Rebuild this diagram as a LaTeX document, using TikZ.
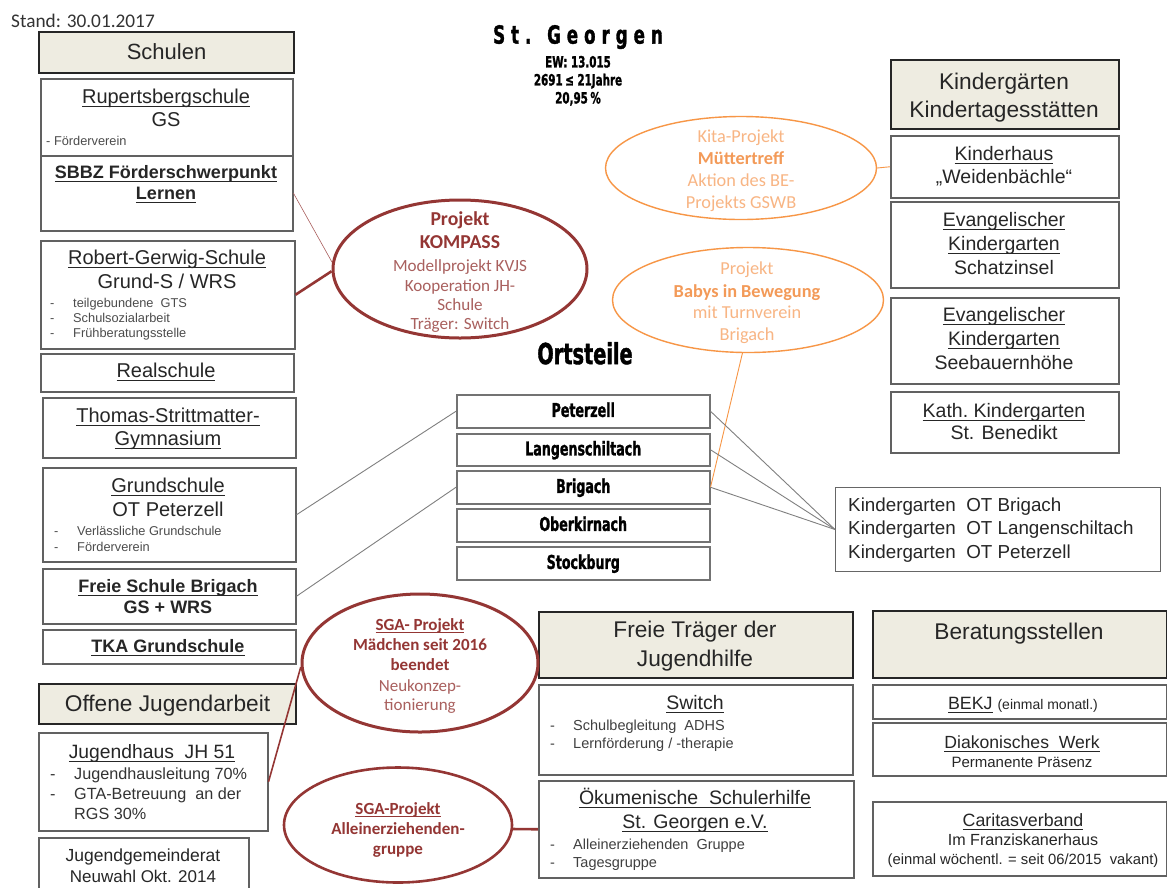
\documentclass[tikz,border=0pt]{standalone}
\usepackage{fontspec}
\setmainfont{Liberation Sans}
\newfontfamily\calfont{Carlito}
\IfFontExistsTF{DejaVu Sans Condensed}
  {\newfontfamily\impfont{DejaVu Sans Condensed}[FakeStretch=0.74, BoldFeatures={FakeBold=1.3}]}
  {\newfontfamily\impfont{DejaVu Sans}[FakeStretch=0.66, BoldFeatures={FakeBold=1.3}]}
\usetikzlibrary{shapes.geometric}
\definecolor{beige}{HTML}{EEECE1}
\definecolor{kred}{HTML}{943634}
\definecolor{kredL}{HTML}{A9605E}
\definecolor{kor}{HTML}{F79646}
\definecolor{korL}{HTML}{F8B584}
\definecolor{korB}{HTML}{F39A58}
\definecolor{txt}{HTML}{262626}
\newcommand\fz[2]{\fontsize{#1}{#2}\selectfont}
\newsavebox\ulbox
\newcommand\uln[1]{\sbox\ulbox{#1}\rlap{\usebox\ulbox}\rule[-0.17em]{\wd\ulbox}{0.9pt}}
\tikzset{
  box/.style={draw=black!62, line width=1.5pt, fill=white, inner sep=0, anchor=north west},
  hdr/.style={draw=black!85, line width=2pt, fill=beige, inner sep=0, anchor=north west},
  obox/.style={draw=black!55, line width=1.5pt, fill=white, inner sep=0, anchor=north west},
  tx/.style={inner sep=0, anchor=mid, text=txt},
  lw/.style={tx, anchor=mid west},
  hT/.style={tx, font=\fz{22.7}{27}, yshift=-4.8pt},
  bT/.style={tx, font=\fz{19.5}{23}, yshift=-4.2pt},
  bTL/.style={tx, font=\fz{20}{24}, yshift=-4.2pt},
  bB/.style={tx, font=\fz{18}{22}\bfseries, yshift=-4pt},
  sm/.style={lw, font=\fz{12.8}{15}, text=black!70, yshift=-2.5pt},
  md/.style={lw, font=\fz{16.2}{19}, text=black!80, yshift=-3.5pt},
  sw/.style={lw, font=\fz{14.5}{17}, text=black!75, yshift=-3pt},
  ort/.style={tx, font=\impfont\bfseries\fz{19}{22}, text=black, yshift=-3pt},
  kell/.style={ellipse, draw=kred, line width=3pt, inner sep=0},
  oell/.style={ellipse, draw=kor, line width=1.4pt, inner sep=0},
  kB/.style={tx, font=\calfont\bfseries\fz{19.7}{23}, text=kred, yshift=-3.5pt},
  kN/.style={tx, font=\calfont\fz{17.1}{20}, text=kredL, yshift=-3.5pt},
  kS/.style={tx, font=\calfont\bfseries\fz{17}{20}, text=kred, yshift=-3.5pt},
  kSN/.style={tx, font=\calfont\fz{17}{20}, text=kredL, yshift=-3.5pt},
  oN/.style={tx, font=\calfont\fz{18.3}{22}, text=korL, yshift=-4pt},
  oB/.style={tx, font=\calfont\bfseries\fz{18.3}{22}, text=korB, yshift=-4pt},
  gline/.style={draw=black!50, line width=0.9pt},
  rthin/.style={draw=kred!80, line width=0.6pt},
  rthick/.style={draw=kred, line width=2.6pt},
  rmed/.style={draw=kred, line width=1.6pt},
  oline/.style={draw=kor, line width=0.9pt}
}
\begin{document}
\begin{tikzpicture}[x=1pt,y=-1pt]
\useasboundingbox (0,0) rectangle (1167,887);
\fill[white] (0,0) rectangle (1167,887);

\node[box, minimum width=252, minimum height=77] (rup) at (40,78) {};
\node[box, minimum width=252, minimum height=75] (sbbz) at (40,155) {};
\node[box, minimum width=254, minimum height=108] (rgs) at (40,240) {};
\node[box, minimum width=253, minimum height=38] (real) at (40,353) {};
\node[box, minimum width=253, minimum height=60] (tsg) at (42,397) {};
\node[box, minimum width=253, minimum height=94] (gsp) at (42,467) {};
\node[box, minimum width=253, minimum height=55] (fsb) at (42,568) {};
\node[box, minimum width=253, minimum height=34] (tka) at (42,629) {};
\node[hdr, minimum width=255, minimum height=41] (schulen) at (38,31) {};
\node[hdr, minimum width=257, minimum height=40] (ojhdr) at (38,683) {};
\node[box, minimum width=229, minimum height=98] (jh) at (38,732) {};
\node[box, minimum width=210, minimum height=75] (jgr) at (38,837) {};

\node[hdr, minimum width=228, minimum height=69] (kghdr) at (890,59) {};
\node[box, minimum width=228, minimum height=62] (kh) at (890,135) {};
\node[box, minimum width=228, minimum height=86] (schatz) at (890,201) {};
\node[box, minimum width=228, minimum height=86] (see) at (890,297) {};
\node[box, minimum width=228, minimum height=61] (kath) at (890,391) {};

\node[obox, minimum width=253, minimum height=33] (pz) at (456,394) {};
\node[obox, minimum width=253, minimum height=32] (lg) at (456,433) {};
\node[obox, minimum width=253, minimum height=33] (br) at (456,470) {};
\node[obox, minimum width=253, minimum height=33] (ok) at (456,508) {};
\node[obox, minimum width=253, minimum height=33] (sb) at (456,546) {};
\node[box, draw=black!60, line width=1pt, minimum width=325, minimum height=84] (kgot) at (835,487) {};

\node[hdr, minimum width=314, minimum height=66] (fthdr) at (538,611) {};
\node[box, minimum width=314, minimum height=90] (switch) at (538,684) {};
\node[box, minimum width=315, minimum height=97] (oek) at (538,780) {};
\node[hdr, minimum width=294, minimum height=67] (bshdr) at (872,610) {};
\node[box, minimum width=294, minimum height=34] (bekj) at (872,684) {};
\node[box, minimum width=294, minimum height=53] (diak) at (872,722) {};
\node[box, minimum width=294, minimum height=74] (carit) at (872,801) {};

% ellipses
\node[kell, minimum width=254, minimum height=138] (kompass) at (460,269) {};
\node[kell, minimum width=236, minimum height=138] (maed) at (420,663) {};
\node[kell, line width=2.6pt, minimum width=228, minimum height=115] (allein) at (398,825) {};
\node[oell, minimum width=271, minimum height=103] (kita) at (741,168) {};
\node[oell, minimum width=271, minimum height=105] (babys) at (748,300) {};

% connectors
\draw[rthin] (sbbz.east) -- (kompass.177.5);
\draw[rthick] (rgs.east) -- (kompass.181.5);
\draw[rmed] (jh.east) -- (maed.182.5);
\draw[rthick] (allein.-2) -- (oek.west);
\draw[oline] (kita.east) -- (kh.west);
\draw[oline] (babys.264) -- (br.east);
\draw[gline] (gsp.east) -- (pz.west);
\draw[gline] (fsb.east) -- (br.west);
\draw[gline] (pz.east) -- (kgot.west);
\draw[gline] (lg.east) -- (kgot.west);
\draw[gline] (br.east) -- (kgot.west);

% --- titles
\node[lw, font=\calfont\fz{19.3}{23}, text=black!80, yshift=-3.5pt] (stand) at (11,21) {Stand: 30.01.2017};
\node[tx, font=\impfont\bfseries\fz{25}{30}\addfontfeatures{LetterSpace=24}, text=black, yshift=-5pt] (title) at (578,36) {St. Georgen};
\node[tx, font=\impfont\bfseries\fz{15.5}{18}, text=black, yshift=-2.8pt] (ew) at (578,62) {EW: 13.015};
\node[tx, font=\impfont\bfseries\fz{15.5}{18}, text=black, yshift=-2.8pt] (ew2) at (578,80) {2691\,≤ 21Jahre};
\node[tx, font=\impfont\bfseries\fz{15.5}{18}, text=black, yshift=-2.8pt] (ew3) at (578,98) {20,95\,\%};
\node[tx, font=\impfont\bfseries\fz{29}{34}, text=black, yshift=-5.5pt] (ortT) at (585,356) {Ortsteile};

% --- Schulen column
\node[hT, font=\fz{22}{26}] (schulenT) at (schulen.center) {Schulen};
\node[bTL] (rupA) at (166,97) {\uln{Rupertsbergschule}};
\node[bTL] (rupB) at (166,120) {GS};
\node[sm] (rupC) at (46,140) {- Förderverein};
\node[bB] (sbbzA) at (166,172) {\uln{SBBZ Förderschwerpunkt}};
\node[bB] (sbbzB) at (166,193) {\uln{Lernen}};
\node[bTL] (rgsA) at (167,258) {\uln{Robert-Gerwig-Schule}};
\node[bTL] (rgsB) at (167,282) {Grund-S / WRS};
\node[sm] (rgsD1) at (50,302) {-};
\node[sm] (rgsC1) at (73,302) {teilgebundene\ \ GTS};
\node[sm] (rgsD2) at (50,317) {-};
\node[sm] (rgsC2) at (73,317) {Schulsozialarbeit};
\node[sm] (rgsD3) at (50,332) {-};
\node[sm] (rgsC3) at (73,332) {Frühberatungsstelle};
\node[bTL] (realT) at (166,371) {\uln{Realschule}};
\node[bTL] (tsgA) at (168,416) {\uln{Thomas-Strittmatter-}};
\node[bTL] (tsgB) at (168,439) {\uln{Gymnasium}};
\node[bTL] (gspA) at (168,486) {\uln{Grundschule}};
\node[bTL] (gspB) at (168,510) {OT Peterzell};
\node[sm] (gspD1) at (54,530) {-};
\node[sm] (gspC1) at (77,530) {Verlässliche Grundschule};
\node[sm] (gspD2) at (54,546) {-};
\node[sm] (gspC2) at (77,546) {Förderverein};
\node[bB] (fsbA) at (168,586) {\uln{Freie Schule Brigach}};
\node[bB] (fsbB) at (168,607) {GS + WRS};
\node[bB] (tkaT) at (168,646) {\uln{TKA Grundschule}};

\node[hT] (ojT) at (ojhdr.center) {Offene Jugendarbeit};
\node[tx, font=\fz{19.3}{23}, yshift=-4pt] (jhA) at (152,752) {\uln{Jugendhaus\ \ JH 51}};
\node[md] (jhD1) at (50,773) {-};
\node[md] (jhC1) at (74,773) {Jugendhausleitung 70\%};
\node[md] (jhD2) at (50,793) {-};
\node[md] (jhC2) at (74,793) {GTA-Betreuung\ \ an der};
\node[md] (jhC3) at (74,813) {RGS 30\%};
\node[tx, font=\fz{17.5}{21}, yshift=-3.5pt] (jgrA) at (143,855) {Jugendgemeinderat};
\node[tx, font=\fz{17}{20}, yshift=-3.5pt] (jgrB) at (143,876) {Neuwahl\ Okt. 2014};

% --- Kindergarten column
\node[hT] (kghA) at (1004,82) {Kindergärten};
\node[hT] (kghB) at (1004,110) {Kindertagesstätten};
\node[bT] (khA) at (1004,154) {\uln{Kinderhaus}};
\node[bT] (khB) at (1004,177) {„Weidenbächle“};
\node[bT] (scA) at (1004,220) {\uln{Evangelischer}};
\node[bT] (scB) at (1004,244) {\uln{Kindergarten}};
\node[bT] (scC) at (1004,268) {Schatzinsel};
\node[bT] (seA) at (1004,315) {\uln{Evangelischer}};
\node[bT] (seB) at (1004,339) {\uln{Kindergarten}};
\node[bT] (seC) at (1004,363) {Seebauernhöhe};
\node[bT] (kaA) at (1004,411) {\uln{Kath.\ Kindergarten}};
\node[bT] (kaB) at (1004,433) {St. Benedikt};

% --- Ortsteile
\node[ort] (pzT) at (pz.center) {Peterzell};
\node[ort] (lgT) at (lg.center) {Langenschiltach};
\node[ort] (brT) at (br.center) {Brigach};
\node[ort] (okT) at (ok.center) {Oberkirnach};
\node[ort] (sbT) at (sb.center) {Stockburg};
\node[lw, font=\fz{18.8}{22}, yshift=-4pt] (kgA) at (848,505) {Kindergarten\ \ OT Brigach};
\node[lw, font=\fz{18.8}{22}, yshift=-4pt] (kgB) at (848,528) {Kindergarten\ \ OT Langenschiltach};
\node[lw, font=\fz{18.8}{22}, yshift=-4pt] (kgC) at (848,552) {Kindergarten\ \ OT Peterzell};

% --- Freie Traeger
\node[hT] (ftA) at (695,630) {Freie Träger der};
\node[hT] (ftB) at (695,659) {Jugendhilfe};
\node[bT] (swA) at (695,703) {\uln{Switch}};
\node[sw] (swD1) at (550,725) {-};
\node[sw] (swC1) at (573,725) {Schulbegleitung\ \ ADHS};
\node[sw] (swD2) at (550,743) {-};
\node[sw] (swC2) at (573,743) {Lernförderung\ /\ -therapie};
\node[bT] (oeA) at (695,798) {\uln{Ökumenische\ \ Schulerhilfe}};
\node[bT] (oeB) at (695,822) {\uln{St. Georgen e.V.}};
\node[sw] (oeD1) at (550,844) {-};
\node[sw] (oeC1) at (573,844) {Alleinerziehenden\ \ Gruppe};
\node[sw] (oeD2) at (550,862) {-};
\node[sw] (oeC2) at (573,862) {Tagesgruppe};

% --- Beratungsstellen
\node[hT] (bsT) at (1019,632) {Beratungsstellen};
\node[tx, font=\fz{17.8}{21}, yshift=-3.8pt] (bekjT) at (1023,703) {\uln{BEKJ} {\fz{14}{16}(einmal monatl.)}};
\node[tx, font=\fz{17.6}{21}, yshift=-3.8pt] (diA) at (1022,742) {\uln{Diakonisches\ \ Werk}};
\node[tx, font=\fz{15}{18}, yshift=-3pt] (diB) at (1022,762) {Permanente\ Präsenz};
\node[tx, font=\fz{17.8}{21}, yshift=-3.8pt] (caA) at (1023,820) {\uln{Caritasverband}};
\node[tx, font=\fz{16.1}{19}, yshift=-3.3pt] (caB) at (1023,840) {Im Franziskanerhaus};
\node[tx, font=\fz{14.8}{17}, yshift=-3pt] (caC) at (1023,859) {(einmal wöchentl. = seit 06/2015\ \ vakant)};

% --- ellipse texts
\node[kB] (koA) at (460,219) {Projekt};
\node[kB] (koB) at (460,242) {KOMPASS};
\node[kN] (koC) at (460,265) {Modellprojekt KVJS};
\node[kN] (koD) at (460,285) {Kooperation JH-};
\node[kN] (koE) at (460,304) {Schule};
\node[kN] (koF) at (460,323) {Träger: Switch};

\node[kS] (maA) at (420,624) {\uln{SGA- Projekt}};
\node[kS] (maB) at (420,644) {Mädchen seit 2016};
\node[kS] (maC) at (420,664) {beendet};
\node[kSN] (maD) at (420,685) {Neukonzep-};
\node[kSN] (maE) at (420,704) {tionierung};

\node[kS] (alA) at (398,808) {\uln{SGA-Projekt}};
\node[kS] (alB) at (398,828) {Alleinerziehenden-};
\node[kS] (alC) at (398,848) {gruppe};

\node[oN] (kiA) at (741,136) {Kita-Projekt};
\node[oB] (kiB) at (741,158) {Müttertreff};
\node[oN] (kiC) at (741,180) {Aktion des BE-};
\node[oN] (kiD) at (741,202) {Projekts GSWB};

\node[oN] (baA) at (747,268) {Projekt};
\node[oB] (baB) at (747,291) {Babys in Bewegung};
\node[oN] (baC) at (747,312) {mit Turnverein};
\node[oN] (baD) at (747,334) {Brigach};
\end{tikzpicture}
\end{document}
